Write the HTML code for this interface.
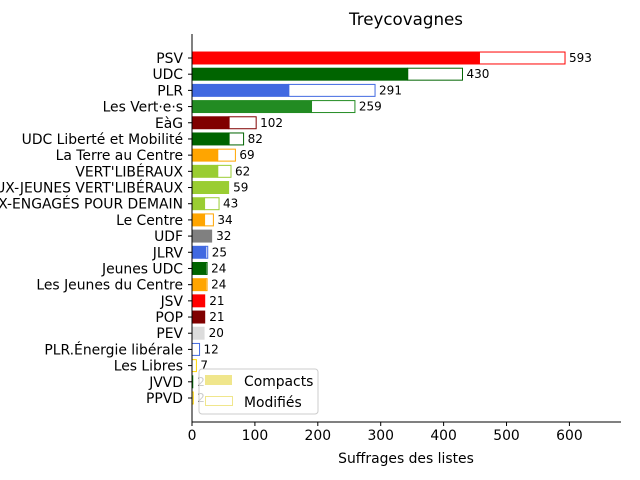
<!DOCTYPE html>
<html><head><meta charset="utf-8"><style>
body{margin:0;background:#fff;}
svg{display:block;font-family:"DejaVu Sans","Liberation Sans",sans-serif;}
</style></head><body>
<svg id="chart" width="640" height="480"></svg>
<script>
const categories=["PSV","UDC","PLR","Les Vert·e·s","EàG","UDC Liberté et Mobilité","La Terre au Centre","VERT'LIBÉRAUX","VERT'LIBÉRAUX-JEUNES VERT'LIBÉRAUX","LES VERT'LIBÉRAUX-ENGAGÉS POUR DEMAIN","Le Centre","UDF","JLRV","Jeunes UDC","Les Jeunes du Centre","JSV","POP","PEV","PLR.Énergie libérale","Les Libres","JVVD","PPVD"];
const totals=[593,430,291,259,102,82,69,62,59,43,34,32,25,24,24,21,21,20,12,7,2,2];
const compacts=[457,343,154,190,59,59,41,41,59,20,20,32,22,22,22,21,21,20,0,0,2,0];
const colors=["red","#006400","royalblue","forestgreen","#800000","#006400","orange","yellowgreen","yellowgreen","yellowgreen","orange","grey","royalblue","#006400","orange","red","#800000","gainsboro","royalblue","gold","green","gold"];
const xTicks=[0,100,200,300,400,500,600];
const NS="http://www.w3.org/2000/svg";
const svg=document.getElementById('chart');
const L=192,R=621,T=34,B=422,xmax=682;
const X=v=>L+v*(R-L)/xmax;
const step=16.19;
const Y=i=>58+i*step;
const bh=0.8*step;
function mk(t,a,p){const e=document.createElementNS(NS,t);for(const k in a)e.setAttribute(k,a[k]);(p||svg).appendChild(e);return e;}
function tx(x,y,s,a){const e=mk('text',Object.assign({x:x,y:y},a));e.textContent=s;return e;}
let e;
e=tx(406,25,"Treycovagnes",{'text-anchor':'middle','font-size':'16.7px'});


categories.forEach((c,i)=>{
  const y=Y(i);
  let r=mk('rect',{x:X(compacts[i]),y:y-bh/2+0.5,width:Math.max(0,X(totals[i])-X(compacts[i])),height:bh-1,fill:'#fff',stroke:colors[i],'stroke-width':1});
  
  
  r=mk('rect',{x:X(0),y:y-bh/2,width:X(compacts[i])-X(0),height:bh,fill:colors[i]});
  
  
  let t=tx(X(totals[i])+4,y+4,String(totals[i]),{'font-size':'12px',fill:'#000'});
  
  
  t=tx(183,y+5,c,{'text-anchor':'end','font-size':'13.9px'});
  
  
  mk('line',{x1:188,x2:192,y1:y,y2:y,stroke:'#000'});
});
xTicks.forEach(v=>{
  mk('line',{x1:X(v),x2:X(v),y1:B,y2:B+4,stroke:'#000'});
  const t=tx(X(v),B+18,String(v),{'text-anchor':'middle','font-size':'13.9px'});
  
  
});
mk('line',{x1:L,x2:L,y1:T,y2:B,stroke:'#000'});
mk('line',{x1:L,x2:R,y1:B,y2:B,stroke:'#000'});
e=tx(406,463,"Suffrages des listes",{'text-anchor':'middle','font-size':'13.9px'});


const g=mk('g',{});


mk('rect',{x:199,y:369,width:119,height:45,rx:3,fill:'#fff','fill-opacity':0.8,stroke:'#ccc'},g);
mk('rect',{x:205,y:375,width:27,height:10,fill:'khaki'},g);
tx(244,386,"Compacts",{'font-size':'13.9px'},g);
mk('rect',{x:205.5,y:396.5,width:27,height:9,fill:'#fff',stroke:'khaki'},g);
tx(244,407,"Modifiés",{'font-size':'13.9px'},g);
</script>
</body></html>
